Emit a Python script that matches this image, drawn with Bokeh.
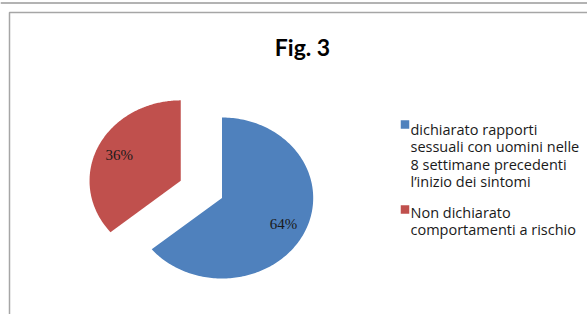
import numpy as np
from bokeh.plotting import figure
from bokeh.core.properties import value
from bokeh.embed import file_html
from bokeh.resources import INLINE

# ---- data ----
title_text = "Fig. 3"
categories = [
    "dichiarato rapporti\nsessuali con uomini nelle\n8 settimane precedenti\nl\u2019inizio dei sintomi",
    "Non dichiarato\ncomportamenti a rischio",
]
shares = [64, 36]
slice_colors = ["#4F81BD", "#C0504D"]
explode = [0.0, 0.5]
labels = ["64%", "36%"]

# ---- layout (pixel geometry of the page) ----
W, H = 587, 314
SX, SY = 91.2, 80.5            # px per data unit (pie is slightly wider than tall)
CX_PAGE, CY_PAGE = 221.5, 197.5
x0 = -CX_PAGE / SX
x1 = x0 + W / SX
y1 = CY_PAGE / SY
y0 = y1 - H / SY


def X(px):
    return x0 + px / SX


def Y(py):
    return y1 - py / SY


p = figure(width=W, height=H, x_range=(x0, x1), y_range=(y0, y1),
           output_backend="svg", toolbar_location=None, min_border=0,
           background_fill_color="white", border_fill_color="white")
p.axis.visible = False
p.grid.visible = False
p.outline_line_color = None

# page rule and chart frame (left and top edges)
p.line([X(0), X(700)], [Y(2.5), Y(2.5)], line_color="#9a9a9a", line_width=1.5)
p.line([X(9), X(9), X(700)], [Y(400), Y(12), Y(12)], line_color="#a6a6a6", line_width=1.5)

# ---- pie ----
total = float(sum(shares))
start = np.pi / 2
xs, ys, lx, ly = [], [], [], []
for v, e in zip(shares, explode):
    sweep = 2 * np.pi * v / total
    th = np.linspace(start, start - sweep, 200)
    mid = start - sweep / 2
    ox, oy = e * np.cos(mid), e * np.sin(mid)
    xs.append(list(np.concatenate([[ox], ox + np.cos(th)])))
    ys.append(list(np.concatenate([[oy], oy + np.sin(th)])))
    lx.append(ox + 0.745 * np.cos(mid))
    ly.append(oy + 0.745 * np.sin(mid))
    start -= sweep

p.patches(xs, ys, fill_color=slice_colors, line_color=None)
p.text(lx, ly, text=labels, text_align="center", text_baseline="middle",
       text_font=value("Liberation Serif"), text_font_size="15px", text_color="#1a1a1a")

# ---- title ----
p.text([X(302)], [Y(46.7)], text=[title_text], text_align="center", text_baseline="alphabetic",
       text_font=value("Lato"), text_font_style="bold", text_font_size="23px", text_color="#000000")

# ---- legend ----
sq_y = [124, 209]
first_base = [129, 212]
line_gap = 17.3
for cat, col, sy, fb in zip(categories, slice_colors, sq_y, first_base):
    p.scatter([X(404.5)], [Y(sy)], marker="square", size=8.5, fill_color=col, line_color=None)
    lines = cat.split("\n")
    p.text([X(410)] * len(lines), [Y(fb + i * line_gap) for i in range(len(lines))], text=lines,
           text_align="left", text_baseline="alphabetic",
           text_font=value("Open Sans"), text_font_size="14.5px", text_color="#1a1a1a")

open("out.html", "w").write(file_html(p, INLINE))
